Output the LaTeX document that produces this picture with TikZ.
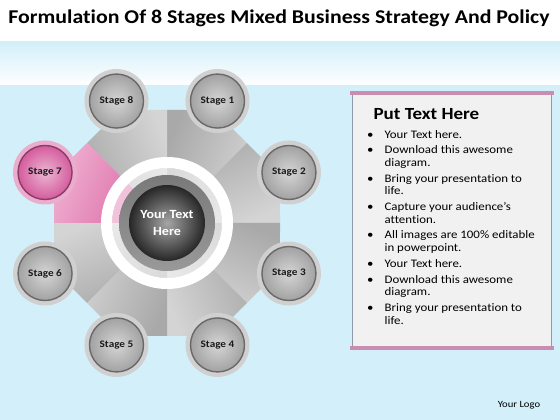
\documentclass[tikz,border=0pt]{standalone}
\usepackage{fontspec}
\setmainfont{Carlito}[FakeStretch=1.12, Ligatures=NoCommon]
\usetikzlibrary{fadings}

\definecolor{bgblue}{HTML}{D2EFFA}
\definecolor{sectdark}{HTML}{A9A9A9}
\definecolor{sectlight}{HTML}{D4D4D4}
\definecolor{pinkdeep}{HTML}{D9619F}
\definecolor{pinklight}{HTML}{EFAED0}
\definecolor{stagegray}{HTML}{A2A2A2}
\definecolor{stagepink}{HTML}{D45C9D}
\definecolor{barpink}{HTML}{C98DAF}
\definecolor{boxside}{HTML}{8E9BAA}
\definecolor{boxfill}{HTML}{F1F1F1}

\tikzset{
  stagehalo/.style={fill=#1!50!white},
  stagebtn/.style={circle, minimum size=54pt, inner sep=0pt, draw=#1!65!black,
    line width=1.4pt, inner color=#1!45!white, outer color=#1,
    font=\bfseries\fontsize{10}{12}\selectfont, text=black!90},
  hubtext/.style={font=\bfseries\fontsize{12.5}{16.5}\selectfont, text=white, align=center}
}

\begin{document}
\begin{tikzpicture}[x=1pt, y=1pt]
\useasboundingbox (0,0) rectangle (560,420);

% Background
\fill[white] (0,0) rectangle (560,420);
\shade[left color=bgblue, middle color=white!92!bgblue, right color=bgblue] (0,0) rectangle (560,378);
\fill[white, path fading=north] (0,335) rectangle (560,379);

% Title
\node[font=\bfseries\fontsize{19.5}{24}\selectfont] (title) at (279,402)
  {Formulation Of 8 Stages Mixed Business Strategy And Policy};

% Octagon sectors
\begin{scope}[shift={(167,197)}]
\foreach \i in {1,...,8} {
  \pgfmathsetmacro\m{67.5-45*(\i-1)}
  \shade[top color=sectdark, bottom color=sectlight, shading angle=\m]
    (0,0) -- (\m-22.5:113) -- (\m:122.3) -- (\m+22.5:113) -- cycle;
}
% highlighted sector (Stage 7)
\shade[top color=pinklight, bottom color=pinkdeep, shading angle=67.5]
  (0,0) -- (135:113) -- (157.5:122.3) -- (180:113) -- cycle;

% Stage buttons
\foreach \i/\col in {1/stagegray,2/stagegray,3/stagegray,4/stagegray,
                     5/stagegray,6/stagegray,7/stagepink,8/stagegray} {
  \pgfmathsetmacro\m{67.5-45*(\i-1)}
  \fill[stagehalo=\col] (\m:132) circle (32);
  \node[stagebtn=\col] (s\i) at (\m:132) {Stage \i};
}

% Hub
\fill[white, even odd rule] (0,0) circle (66) circle (55);
\fill[white, opacity=0.55, even odd rule] (0,0) circle (55) circle (48);
\shade[top color=gray!95!black, bottom color=gray!80] (0,0) circle (48);
\node[circle, minimum size=76pt, inner sep=0pt, inner color=gray!70, outer color=black!85,
  hubtext] (hub) at (0,0) {Your Text\\Here};
\end{scope}

% Text panel
\fill[boxfill] (352,72) rectangle (552,327);
\draw[boxside, line width=1.2pt] (352.6,72) -- (352.6,327);
\draw[boxside, line width=1.2pt] (551.4,72) -- (551.4,327);
\fill[barpink] (350,325) rectangle (554,329);
\fill[barpink] (350,70) rectangle (554,74);
\node[anchor=west, font=\bfseries\fontsize{17}{20}\selectfont] (head) at (370,306) {Put Text Here};
\node[anchor=north west, inner sep=0pt, font=\fontsize{11.5}{12.7}\selectfont] (list) at (367,291) {%
  \begin{tabular}{@{}c@{\hspace{11pt}}l@{}}
  \textbullet & Your Text here.\\[3pt]
  \textbullet & Download this awesome\\
              & diagram.\\[3pt]
  \textbullet & Bring your presentation to\\
              & life.\\[3pt]
  \textbullet & Capture your audience’s\\
              & attention.\\[3pt]
  \textbullet & All images are 100\% editable\\
              & in powerpoint.\\[3pt]
  \textbullet & Your Text here.\\[3pt]
  \textbullet & Download this awesome\\
              & diagram.\\[3pt]
  \textbullet & Bring your presentation to\\
              & life.
  \end{tabular}};

% Logo
\node[font=\fontsize{9.5}{11}\selectfont] (logo) at (519,15) {Your Logo};

\end{tikzpicture}
\end{document}
